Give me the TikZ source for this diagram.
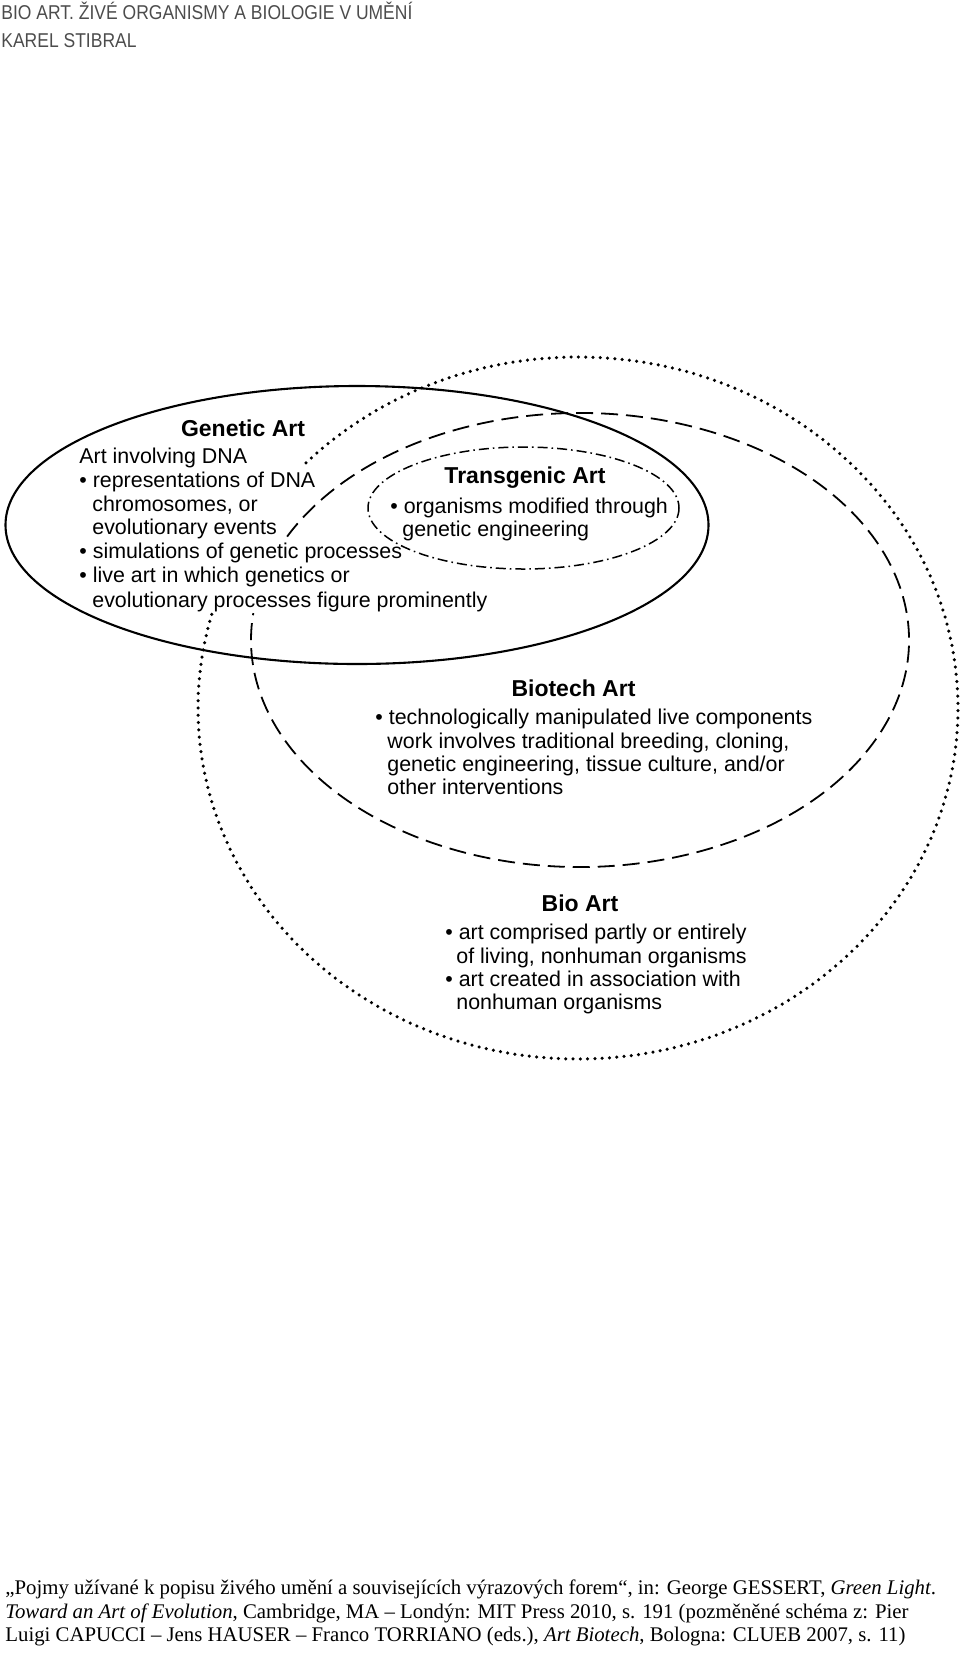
\documentclass[tikz,border=0pt]{standalone}
\usepackage{fontspec}
\setmainfont{Liberation Sans}
\newfontfamily\capfont{Liberation Serif}
\newfontfamily\headfont[FakeStretch=0.875]{Liberation Sans}

\begin{document}
\begin{tikzpicture}[line join=round,x=0.5pt,y=-0.5pt,
		genetic/.style={line width=1.05pt},
		transgenic/.style={line width=0.75pt,dash pattern=on 5pt off 2pt on 0.8pt off 2pt},
		biotech/.style={line width=0.9pt,dash pattern=on 8.5pt off 4pt},
		bio/.style={line width=1.75pt,line cap=round,dash pattern=on 0pt off 3.65pt},
		txt/.style={anchor=base west,inner sep=0pt,font=\fontsize{10.7}{12}\selectfont},
		ttl/.style={anchor=base,inner sep=0pt,font=\fontsize{11.5}{13}\selectfont\bfseries},
		hdr/.style={anchor=base west,inner sep=0pt,text=black!70,font=\headfont\fontsize{10}{12}\selectfont},
		captxt/.style={anchor=base west,inner sep=0pt,font=\capfont\fontsize{10.4}{12}\selectfont}]
		\useasboundingbox (0,0) rectangle (960,1661);
		% header
		\node[hdr] (head1) at (1,19.3) {BIO ART. ŽIVÉ ORGANISMY A BIOLOGIE V UMĚNÍ};
		\node[hdr] (head2) at (1,47) {KAREL STIBRAL};
		% the four fields
		\coordinate (geneticC) at (357,525);
		\coordinate (transC) at (523.5,508);
		\coordinate (biotechC) at (580,640);
		\coordinate (bioC) at (578,708);
		\draw[genetic] (geneticC) ellipse [x radius=351.5, y radius=139];
		\draw[transgenic] (transC) ellipse [x radius=155.5, y radius=61];
		\draw[biotech] ([shift={(207.1:329 and 227)}]biotechC) arc [start angle=207.1, end angle=546.8, x radius=329, y radius=227];
		\draw[bio] ([shift={(224.3:380 and 351)}]bioC) arc [start angle=224.3, end angle=556.2, x radius=380, y radius=351];
		% Genetic Art
		\node[ttl] (geneticT) at (243,436) {Genetic Art};
		\node[txt] (genetic1) at (79,463) {Art involving DNA};
		\node[txt] (genetic2) at (79,487) {\textbullet\ representations of DNA};
		\node[txt] (genetic3) at (92,511) {chromosomes, or};
		\node[txt] (genetic4) at (92,534) {evolutionary events};
		\node[txt] (genetic5) at (79,558) {\textbullet\ simulations of genetic processes};
		\node[txt] (genetic6) at (79,582) {\textbullet\ live art in which genetics or};
		\node[txt] (genetic7) at (92,607) {evolutionary processes figure prominently};
		% Transgenic Art
		\node[ttl] (transT) at (525,483) {Transgenic Art};
		\node[txt] (trans1) at (390,513) {\textbullet\ organisms modified through};
		\node[txt] (trans2) at (402,536) {genetic engineering};
		% Biotech Art
		\node[ttl] (biotechT) at (573.5,696) {Biotech Art};
		\node[txt] (biotech1) at (375,724) {\textbullet\ technologically manipulated live components};
		\node[txt] (biotech2) at (387,748) {work involves traditional breeding, cloning,};
		\node[txt] (biotech3) at (387,771) {genetic engineering, tissue culture, and/or};
		\node[txt] (biotech4) at (387,794) {other interventions};
		% Bio Art
		\node[ttl] (bioT) at (580,911) {Bio Art};
		\node[txt] (bio1) at (445,939) {\textbullet\ art comprised partly or entirely};
		\node[txt] (bio2) at (456,963) {of living, nonhuman organisms};
		\node[txt] (bio3) at (445,986) {\textbullet\ art created in association with};
		\node[txt] (bio4) at (456,1009) {nonhuman organisms};
		% caption
		\node[captxt] (cap1) at (5,1594) {„Pojmy užívané k popisu živého umění a souvisejících výrazových forem“, in: George GESSERT, \textit{Green Light}.};
		\node[captxt] (cap2) at (5,1618) {\textit{Toward an Art of Evolution}, Cambridge, MA – Londýn: MIT Press 2010, s. 191 (pozměněné schéma z: Pier};
		\node[captxt] (cap3) at (5,1641) {Luigi CAPUCCI – Jens HAUSER – Franco TORRIANO (eds.), \textit{Art Biotech}, Bologna: CLUEB 2007, s. 11)};
	\end{tikzpicture}
\end{document}
